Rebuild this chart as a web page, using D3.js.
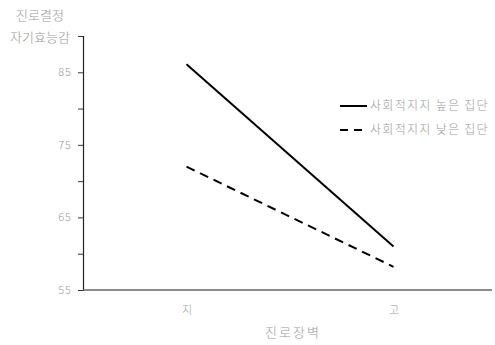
<!DOCTYPE html>
<html>
<head>
<meta charset="utf-8">
<script src="https://cdn.jsdelivr.net/npm/d3@7"></script>
<style>
body { margin: 0; background: #fff; }
text { font-family: "Noto Sans CJK KR", sans-serif; fill: #999; font-weight: 300; }
</style>
</head>
<body>
<div id="chart"></div>
<script>
// data
var categories = ["지", "고"];
var highSupport = [86.1, 61.0];
var lowSupport = [72.0, 58.2];
var seriesNames = ["사회적지지 높은 집단", "사회적지지 낮은 집단"];
var yTicks = [55, 60, 65, 70, 75, 80, 85, 90];
var yLabels = [55, 65, 75, 85];

var w = 495, h = 345;
var svg = d3.select("#chart").append("svg").attr("width", w).attr("height", h);

var x = d3.scalePoint().domain(categories).range([83, 497]).padding(0.5);
var y = d3.scaleLinear().domain([55, 90]).range([290, 36]);

// y axis
var yAxis = d3.axisLeft(y).tickValues(yTicks).tickSize(5)
	.tickFormat(function(d) { return yLabels.indexOf(d) >= 0 ? d : ""; });
var gy = svg.append("g").attr("transform", "translate(83,0)").call(yAxis);
gy.select(".domain").attr("stroke", "#222").attr("stroke-width", 1.2);
gy.selectAll(".tick line").attr("stroke", "#333");
gy.selectAll(".tick text").attr("x", -11).style("font-size", "11px").style("fill", "#999")
	.style("letter-spacing", "1px");

// x axis
var xAxis = d3.axisBottom(x).tickSize(0).tickPadding(16);
var gx = svg.append("g").attr("transform", "translate(0,290)").call(xAxis);
gx.select(".domain").attr("stroke", "#666").attr("stroke-width", 1.5).attr("d", "M83,0H492");
gx.selectAll(".tick text").style("font-size", "11px").style("fill", "#999");

// lines
var line = d3.line().x(function(d, i) { return x(categories[i]); }).y(function(d) { return y(d); });
svg.append("path").datum(highSupport).attr("d", line)
	.attr("fill", "none").attr("stroke", "#000").attr("stroke-width", 2);
svg.append("path").datum(lowSupport).attr("d", line)
	.attr("fill", "none").attr("stroke", "#000").attr("stroke-width", 2)
	.attr("stroke-dasharray", "9,6");

// titles
svg.append("text").attr("x", 40).attr("y", 20).attr("text-anchor", "middle")
	.style("font-size", "13px").text("진로결정");
svg.append("text").attr("x", 40).attr("y", 42).attr("text-anchor", "middle")
	.style("font-size", "13px").text("자기효능감");
svg.append("text").attr("x", 293).attr("y", 337).attr("text-anchor", "middle")
	.style("font-size", "13px").style("letter-spacing", "2px").text("진로장벽");

// legend
var legend = svg.append("g").selectAll("g").data(seriesNames).enter().append("g")
	.attr("transform", function(d, i) { return "translate(340," + (106 + i * 24) + ")"; });
legend.append("line").attr("x1", 0).attr("x2", 27).attr("y1", 0).attr("y2", 0)
	.attr("stroke", "#000").attr("stroke-width", 2)
	.attr("stroke-dasharray", function(d, i) { return i == 1 ? "8,6" : null; });
legend.append("text").attr("x", 30).attr("y", 4).style("font-size", "12px")
	.style("letter-spacing", "1.3px").text(function(d) { return d; });
</script>
</body>
</html>
